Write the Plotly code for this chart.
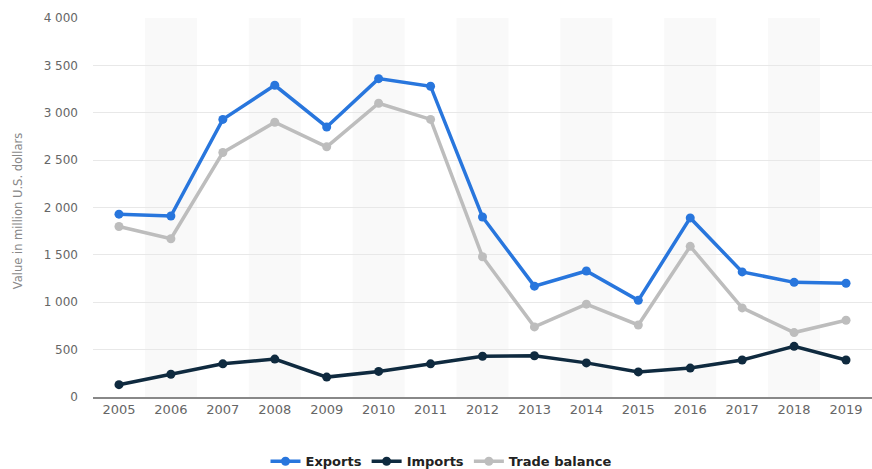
import plotly.graph_objects as go

years = [str(y) for y in range(2005, 2020)]
exports = [1930, 1910, 2930, 3290, 2850, 3360, 3280, 1900, 1170, 1330, 1020, 1890, 1320, 1210, 1200]
imports = [130, 240, 350, 400, 210, 270, 350, 430, 435, 360, 265, 305, 390, 535, 390]
trade_balance = [1800, 1670, 2580, 2900, 2640, 3100, 2930, 1480, 740, 980, 760, 1590, 940, 680, 810]
y_ticks = [0, 500, 1000, 1500, 2000, 2500, 3000, 3500, 4000]

FONT = "DejaVu Sans, Verdana, sans-serif"

fig = go.Figure()

series = [
    ("Exports", exports, "#2876dd"),
    ("Imports", imports, "#0f2a3f"),
    ("Trade balance", trade_balance, "#bdbdbd"),
]
for name, vals, color in series:
    fig.add_trace(go.Scatter(
        x=years, y=vals, name=name, mode="lines+markers",
        line=dict(color=color, width=3.5),
        marker=dict(color=color, size=9),
    ))

# alternating column bands
shapes = []
for i, _ in enumerate(years):
    if i % 2 == 1:
        shapes.append(dict(type="rect", xref="x", yref="paper",
                           x0=i - 0.5, x1=i + 0.5, y0=0, y1=1,
                           fillcolor="#f9f9f9", line=dict(width=0), layer="below"))

L, R, T, B = 93, 0, 18, 72
plot_w = 872 - L - R

fig.update_layout(
    width=872, height=469,
    margin=dict(l=L, r=R, t=T, b=B, autoexpand=False),
    plot_bgcolor="white", paper_bgcolor="white",
    separators=". ",
    shapes=shapes,
    showlegend=True,
    legend=dict(orientation="h", x=(441 - L) / plot_w, xanchor="center", y=-0.13, yanchor="top",
                font=dict(family=FONT, size=13, color="#222", weight="bold"),
                traceorder="normal", itemwidth=30),
    font=dict(family=FONT),
    annotations=[dict(text="Value in million U.S. dollars", xref="paper", yref="paper",
                      x=(18 - L) / plot_w, y=0.49, xanchor="center", yanchor="middle",
                      textangle=-90, showarrow=False, font=dict(family=FONT, size=11.5, color="#888"))],
)
fig.update_xaxes(
    type="category", range=[-0.5, len(years) - 0.5], automargin=False,
    showgrid=False, showline=True, linecolor="#888", linewidth=1.5,
    ticks="", tickfont=dict(family=FONT, size=13, color="#666"),
)
fig.update_yaxes(
    range=[0, 4000], tickvals=y_ticks, tickformat=",d", automargin=False,
    showgrid=True, gridcolor="#e8e8e8", gridwidth=1,
    zeroline=False, showline=False, ticks="", ticklabelstandoff=14,
    tickfont=dict(family=FONT, size=12, color="#666"),
)

fig.write_html("out.html", config={"displayModeBar": False},
               post_script="document.body.style.margin='0';document.body.style.overflow='hidden';")
